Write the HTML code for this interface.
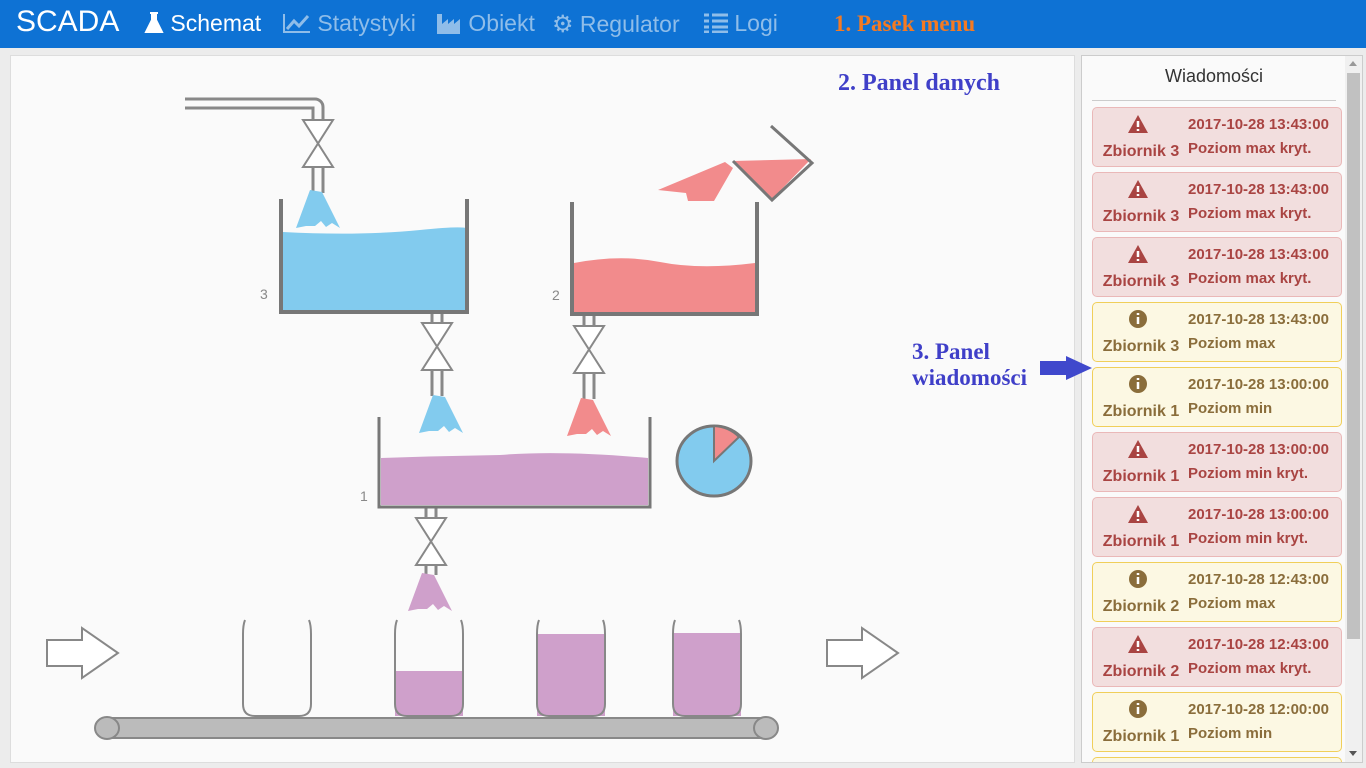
<!DOCTYPE html>
<html><head><meta charset="utf-8"><style>
*{margin:0;padding:0;box-sizing:border-box}
body{width:1366px;height:768px;overflow:hidden;background:#ececec;font-family:"Liberation Sans",sans-serif;position:relative}
#nav{position:absolute;left:0;top:0;width:1366px;height:48px;background:#0e72d4}
.n{position:absolute;top:10px;font-size:23px;color:#8fbde9;white-space:nowrap}
#left{position:absolute;left:10px;top:55px;width:1065px;height:708px;background:#fafafa;border:1px solid #ddd}
#right{position:absolute;left:1081px;top:55px;width:282px;height:708px;background:#fafafa;border:1px solid #ccc}
.ann{position:absolute;font-family:"Liberation Serif",serif;font-weight:bold;font-size:23px;white-space:nowrap}
.m{position:absolute;left:1092px;width:250px;height:60px;border:1px solid;border-radius:5px;font-weight:bold;font-size:15px}
.r{background:#f2dede;border-color:#eab8b8;color:#a94442}
.y{background:#fcf8e3;border-color:#f0cf5a;color:#8a6d3b}
.m .d{position:absolute;left:95px;top:8px}
.m .t{position:absolute;left:95px;top:32px}
.m .z{position:absolute;left:4px;top:35px;width:88px;text-align:center;font-size:16px}
.m svg{position:absolute;left:34px;top:6px}
</style></head><body>
<div id="nav">
<div class="n" style="left:16px;top:5px;font-size:30px;color:#fff">SCADA</div>
<div class="n" style="left:144px;color:#fff"><svg width="20" height="22" viewBox="0 0 20 22" style="vertical-align:-3px"><path d="M6 1h8M8 1v7L2 20h16L12 8V1" fill="#fff" stroke="#fff" stroke-width="2"/></svg> Schemat</div>
<div class="n" style="left:283px"><svg width="28" height="20" viewBox="0 0 28 20" style="vertical-align:-2px"><path d="M1 1v18h26" fill="none" stroke="#8fbde9" stroke-width="2"/><path d="M4 16l7-8 5 5 9-10" fill="none" stroke="#8fbde9" stroke-width="3"/></svg> Statystyki</div>
<div class="n" style="left:436px"><svg width="26" height="22" viewBox="0 0 26 22" style="vertical-align:-3px"><path d="M1 22V2h5v10l6-5v5l6-5v5l6-5v15z" fill="#8fbde9"/></svg> Obiekt</div>
<div class="n" style="left:552px"><span style="font-size:24px">⚙</span> Regulator</div>
<div class="n" style="left:704px"><svg width="24" height="20" viewBox="0 0 24 20" style="vertical-align:-2px"><path d="M0 2h5M8 2h16M0 8h5M8 8h16M0 14h5M8 14h16M0 19h5M8 19h16" stroke="#8fbde9" stroke-width="3"/></svg> Logi</div>
</div>
<div class="ann" style="left:834px;top:11px;color:#f47a22">1. Pasek menu</div>
<div id="left"></div>
<div id="right">
<div style="position:absolute;left:0;width:264px;top:10px;text-align:center;font-size:18px;color:#333">Wiadomości</div>
<div style="position:absolute;left:10px;top:44px;width:244px;height:1px;background:#ccc"></div>
<div style="position:absolute;left:263px;top:0;width:17px;height:706px;background:#f0f0f0"></div>
<div style="position:absolute;left:265px;top:17px;width:13px;height:566px;background:#c1c1c1"></div>
<div style="position:absolute;left:267px;top:5px;width:0;height:0;border:4px solid transparent;border-bottom:5px solid #999;border-top:0"></div>
<div style="position:absolute;left:267px;top:695px;width:0;height:0;border:4px solid transparent;border-top:5px solid #555;border-bottom:0"></div>
</div>
<div class="ann" style="left:838px;top:70px;color:#3f3fc8;font-size:24px">2. Panel danych</div>
<div class="ann" style="left:912px;top:339px;color:#3f3fc8;line-height:26px">3. Panel<br>wiadomości</div>
<svg style="position:absolute;left:1038px;top:355px" width="56" height="26"><path d="M2 6h26V1l26 12-26 12v-5H2z" fill="#3f48cc"/></svg>

<svg style="position:absolute;left:0;top:0" width="1080" height="768">
<defs>
<path id="sp" d="M-8 0L4 2 22 38 14 33 8 37 3 31-3 36-12 36-22 38z"/>
</defs>
<g fill="none" stroke="#888" stroke-width="3">
<path d="M185 99H315a8 8 0 0 1 8 8v12M185 108H313v11"/>
</g>
<g stroke="#888" stroke-width="2" fill="#fff">
<path d="M303 120h30l-30 47h30z"/>
<path d="M422 323h30l-30 47h30z"/>
<path d="M574 326h30l-30 47h30z"/>
<path d="M416 518h30l-30 47h30z"/>
</g>
<g stroke="#888" stroke-width="3">
<path d="M313 167v26M323 167v26"/>
<path d="M432 312v11M442 312v11M432 370v26M442 370v26"/>
<path d="M584 314v12M594 314v12M584 373v26M594 373v26"/>
<path d="M426 507v11M436 507v11M426 565v10M436 565v10"/>
</g>
<use href="#sp" x="318" y="190" fill="#82cbee"/>
<use href="#sp" x="441" y="395" fill="#82cbee"/>
<use href="#sp" x="589" y="398" fill="#f28b8c"/>
<use href="#sp" x="430" y="573" fill="#cfa0cb"/>
<path d="M283 232 Q360 236 420 230 T465 232V310H283z" fill="#82cbee"/>
<path d="M281 199V312H467V199" fill="none" stroke="#777" stroke-width="4"/>
<text x="260" y="299" font-size="14" fill="#888">3</text>
<path d="M574 263 Q620 254 660 262 T755 263V312H574z" fill="#f28b8c"/>
<path d="M572 202V314H757V202" fill="none" stroke="#777" stroke-width="4"/>
<text x="552" y="300" font-size="14" fill="#888">2</text>
<path d="M733 161L811 159 772 199z" fill="#f28b8c"/>
<path d="M771 126L812 163 772 200 733 161" fill="none" stroke="#777" stroke-width="3"/>
<path d="M658 190L725 162 733 168 714 201 688 201 686 193z" fill="#f28b8c"/>
<path d="M381 458 Q440 456 500 455 Q560 450 648 458V505H381z" fill="#cfa0cb"/>
<path d="M379 417V507H650V417" fill="none" stroke="#777" stroke-width="3"/>
<text x="360" y="501" font-size="14" fill="#888">1</text>
<ellipse cx="714" cy="461" rx="37" ry="35" fill="#82cbee" stroke="#777" stroke-width="3"/>
<path d="M714 461V426A37 35 0 0 1 739 437z" fill="#f28b8c" stroke="#777" stroke-width="2"/>
<g stroke="#888" stroke-width="2">
<rect x="395" y="671" width="68" height="45" fill="#cfa0cb" stroke="none"/>
<rect x="537" y="634" width="68" height="82" fill="#cfa0cb" stroke="none"/>
<rect x="673" y="633" width="68" height="83" fill="#cfa0cb" stroke="none"/>
<path d="M245 620q-2 5-2 14v70q0 12 12 12h44q12 0 12-12v-70q0-9-2-14" fill="none"/>
<path d="M397 620q-2 5-2 14v70q0 12 12 12h44q12 0 12-12v-70q0-9-2-14" fill="none"/>
<path d="M539 620q-2 5-2 14v70q0 12 12 12h44q12 0 12-12v-70q0-9-2-14" fill="none"/>
<path d="M675 620q-2 5-2 14v70q0 12 12 12h44q12 0 12-12v-70q0-9-2-14" fill="none"/>
</g>
<rect x="106" y="718" width="660" height="20" fill="#bbb" stroke="#888" stroke-width="2"/>
<ellipse cx="107" cy="728" rx="12" ry="11" fill="#bbb" stroke="#888" stroke-width="2"/>
<ellipse cx="766" cy="728" rx="12" ry="11" fill="#bbb" stroke="#888" stroke-width="2"/>
<path d="M47 640h35v-12l36 25-36 25v-12h-35z" fill="#fff" stroke="#888" stroke-width="2"/>
<path d="M827 640h35v-12l36 25-36 25v-12h-35z" fill="#fff" stroke="#888" stroke-width="2"/>
</svg>

<div class="m r" style="top:107px"><svg width="22" height="20" viewBox="0 0 22 20"><path d="M11 1L21 19H1z" fill="#a94442"/><path d="M11 7v6M11 15v2" stroke="#fff" stroke-width="2.5"/></svg><div class="d">2017-10-28 13:43:00</div><div class="t">Poziom max kryt.</div><div class="z">Zbiornik 3</div></div>
<div class="m r" style="top:172px"><svg width="22" height="20" viewBox="0 0 22 20"><path d="M11 1L21 19H1z" fill="#a94442"/><path d="M11 7v6M11 15v2" stroke="#fff" stroke-width="2.5"/></svg><div class="d">2017-10-28 13:43:00</div><div class="t">Poziom max kryt.</div><div class="z">Zbiornik 3</div></div>
<div class="m r" style="top:237px"><svg width="22" height="20" viewBox="0 0 22 20"><path d="M11 1L21 19H1z" fill="#a94442"/><path d="M11 7v6M11 15v2" stroke="#fff" stroke-width="2.5"/></svg><div class="d">2017-10-28 13:43:00</div><div class="t">Poziom max kryt.</div><div class="z">Zbiornik 3</div></div>
<div class="m y" style="top:302px"><svg width="22" height="20" viewBox="0 0 22 20"><circle cx="11" cy="10" r="9" fill="#8a6d3b"/><path d="M11 8v7M11 4v2" stroke="#fff" stroke-width="2.5"/></svg><div class="d">2017-10-28 13:43:00</div><div class="t">Poziom max</div><div class="z">Zbiornik 3</div></div>
<div class="m y" style="top:367px"><svg width="22" height="20" viewBox="0 0 22 20"><circle cx="11" cy="10" r="9" fill="#8a6d3b"/><path d="M11 8v7M11 4v2" stroke="#fff" stroke-width="2.5"/></svg><div class="d">2017-10-28 13:00:00</div><div class="t">Poziom min</div><div class="z">Zbiornik 1</div></div>
<div class="m r" style="top:432px"><svg width="22" height="20" viewBox="0 0 22 20"><path d="M11 1L21 19H1z" fill="#a94442"/><path d="M11 7v6M11 15v2" stroke="#fff" stroke-width="2.5"/></svg><div class="d">2017-10-28 13:00:00</div><div class="t">Poziom min kryt.</div><div class="z">Zbiornik 1</div></div>
<div class="m r" style="top:497px"><svg width="22" height="20" viewBox="0 0 22 20"><path d="M11 1L21 19H1z" fill="#a94442"/><path d="M11 7v6M11 15v2" stroke="#fff" stroke-width="2.5"/></svg><div class="d">2017-10-28 13:00:00</div><div class="t">Poziom min kryt.</div><div class="z">Zbiornik 1</div></div>
<div class="m y" style="top:562px"><svg width="22" height="20" viewBox="0 0 22 20"><circle cx="11" cy="10" r="9" fill="#8a6d3b"/><path d="M11 8v7M11 4v2" stroke="#fff" stroke-width="2.5"/></svg><div class="d">2017-10-28 12:43:00</div><div class="t">Poziom max</div><div class="z">Zbiornik 2</div></div>
<div class="m r" style="top:627px"><svg width="22" height="20" viewBox="0 0 22 20"><path d="M11 1L21 19H1z" fill="#a94442"/><path d="M11 7v6M11 15v2" stroke="#fff" stroke-width="2.5"/></svg><div class="d">2017-10-28 12:43:00</div><div class="t">Poziom max kryt.</div><div class="z">Zbiornik 2</div></div>
<div class="m y" style="top:692px"><svg width="22" height="20" viewBox="0 0 22 20"><circle cx="11" cy="10" r="9" fill="#8a6d3b"/><path d="M11 8v7M11 4v2" stroke="#fff" stroke-width="2.5"/></svg><div class="d">2017-10-28 12:00:00</div><div class="t">Poziom min</div><div class="z">Zbiornik 1</div></div>
<div class="m y" style="top:757px;height:5px;border-bottom:0;border-radius:5px 5px 0 0"></div>
</body></html>
